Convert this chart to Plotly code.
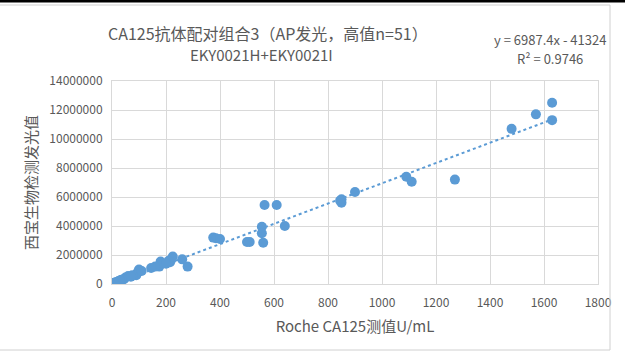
import plotly.graph_objects as go

# Data (Roche CA125 U/mL vs 西宝生物 luminescence)
roche_x = [1630, 1570, 1630, 1480, 1270, 1090, 1110, 900, 850, 850, 845,
           640, 610, 565, 555, 555, 560, 500, 510, 375, 385, 400,
           280, 260, 225, 215, 220, 210, 180, 175, 160, 145, 100, 95, 90,
           75, 60, 50, 45, 35, 25, 20, 10, 5, 15, 40, 70, 110, 30, 200, 8]
signal_y = [12500000, 11700000, 11300000, 10700000, 7200000, 7400000, 7050000,
            6350000, 5850000, 5600000, 5750000,
            4000000, 5450000, 5450000, 3950000, 3500000, 2850000, 2900000, 2900000,
            3200000, 3150000, 3100000,
            1200000, 1700000, 1900000, 1500000, 1700000, 1600000, 1550000, 1200000,
            1200000, 1100000, 1000000, 800000, 600000,
            600000, 550000, 450000, 350000, 300000, 200000, 150000, 100000, 50000,
            100000, 300000, 500000, 900000, 250000, 1400000, 80000]
slope = 6987.4
intercept = -41324
x_ticks = [0, 200, 400, 600, 800, 1000, 1200, 1400, 1600, 1800]
y_ticks = [0, 2000000, 4000000, 6000000, 8000000, 10000000, 12000000, 14000000]

title_line1 = "CA125抗体配对组合3（AP发光，高值n=51）"
title_line2 = "EKY0021H+EKY0021I"
eq_line1 = "y = 6987.4x - 41324"
eq_line2 = "R² = 0.9746"
x_title = "Roche CA125测值U/mL"
y_title = "西宝生物检测发光值"

font_family = "Noto Sans CJK SC, Noto Sans, sans-serif"
grey = "#595959"
blue = "#5B9BD5"

xmin, xmax = min(roche_x), max(roche_x)
fig = go.Figure()
fig.add_trace(go.Scatter(
    x=[xmin, xmax], y=[slope * xmin + intercept, slope * xmax + intercept],
    mode="lines", line=dict(color=blue, width=2, dash="dot"),
    hoverinfo="skip", showlegend=False))
fig.add_trace(go.Scatter(
    x=roche_x, y=signal_y, mode="markers",
    marker=dict(color=blue, size=10, line=dict(width=0)),
    showlegend=False))

L, R, T, B = 112, 27, 81, 76
W, H = 625, 360
pw, ph = W - L - R, H - T - B

def px(xp):
    return (xp - L) / pw

def py(yp):
    return (H - B - yp) / ph

fig.update_layout(
    width=W, height=H,
    margin=dict(l=L, r=R, t=T, b=B),
    paper_bgcolor="white", plot_bgcolor="white",
    font=dict(family=font_family, color=grey, size=12),
    xaxis=dict(range=[0, 1800], tickvals=x_ticks, showgrid=True,
               gridcolor="#D9D9D9", gridwidth=1, zeroline=False,
               showline=True, linecolor="#D9D9D9", mirror=True,
               ticks="", ticklabelstandoff=8, tickfont=dict(size=12, color=grey),
               title=dict(text=x_title, font=dict(size=15, color=grey), standoff=12)),
    yaxis=dict(range=[0, 14000000], tickvals=y_ticks,
               ticktext=[str(v) for v in y_ticks], showgrid=True,
               gridcolor="#D9D9D9", gridwidth=1, zeroline=False,
               showline=True, linecolor="#D9D9D9", mirror=True,
               ticks="", ticklabelstandoff=6, tickfont=dict(size=12, color=grey),
               title=dict(text=y_title, font=dict(size=15, color=grey), standoff=8)),
    annotations=[
        dict(text=title_line1, x=px(268), y=py(33), xref="paper", yref="paper",
             showarrow=False, font=dict(size=16, color=grey), xanchor="center", yanchor="middle"),
        dict(text=title_line2, x=px(261), y=py(54), xref="paper", yref="paper",
             showarrow=False, font=dict(size=15, color=grey), xanchor="center", yanchor="middle"),
        dict(text=eq_line1, x=px(550), y=py(39), xref="paper", yref="paper",
             showarrow=False, font=dict(size=13, color=grey), xanchor="center", yanchor="middle"),
        dict(text=eq_line2, x=px(550), y=py(58), xref="paper", yref="paper",
             showarrow=False, font=dict(size=13, color=grey), xanchor="center", yanchor="middle"),
    ],
    shapes=[
        dict(type="rect", xref="paper", yref="paper", x0=px(0), x1=px(W), y0=py(0), y1=py(2.5),
             fillcolor="black", line=dict(width=0), layer="above"),
        dict(type="line", xref="paper", yref="paper", x0=px(0), x1=px(610), y0=py(5), y1=py(5),
             line=dict(color="#D0D0D0", width=1)),
        dict(type="line", xref="paper", yref="paper", x0=px(610), x1=px(610), y0=py(5), y1=py(350),
             line=dict(color="#D0D0D0", width=1)),
        dict(type="line", xref="paper", yref="paper", x0=px(0), x1=px(610), y0=py(350), y1=py(350),
             line=dict(color="#D0D0D0", width=1)),
    ],
)

fig.write_html("out.html", config={"displayModeBar": False},
               post_script="document.body.style.margin='0px';document.body.style.overflow='hidden';")
